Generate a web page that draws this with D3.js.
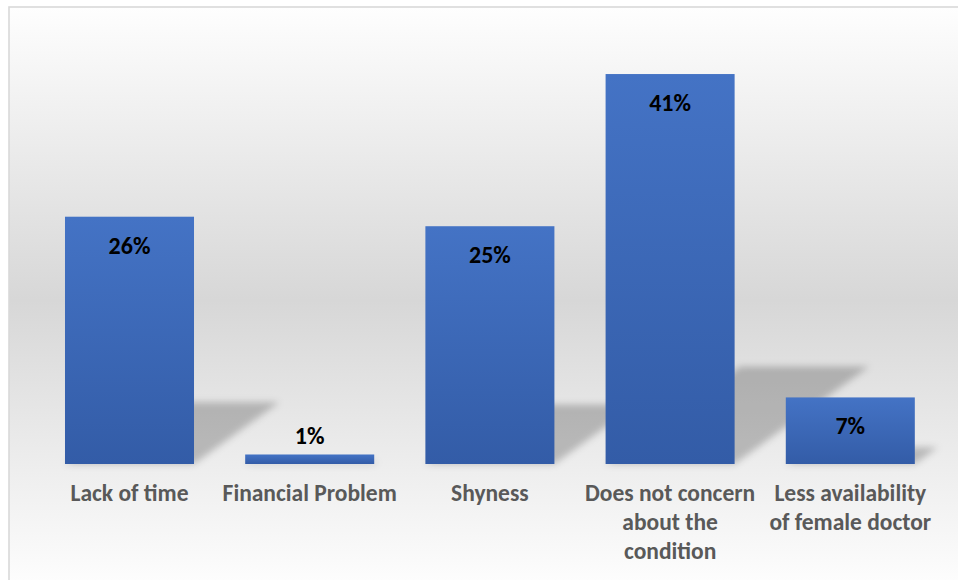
<!DOCTYPE html>
<html>
<head>
<meta charset="utf-8">
<script src="https://cdn.jsdelivr.net/npm/d3@7"></script>
<style>
  html, body { margin: 0; padding: 0; background: #ffffff; }
  svg { display: block; }
  text { font-family: Carlito, Calibri, Lato, "Open Sans", sans-serif; font-weight: bold; }
</style>
</head>
<body>
<svg id="chart" width="958" height="580"></svg>
<script>
// Reasons reported, share of respondents (%)
const categories = [
  "Lack of time",
  "Financial Problem",
  "Shyness",
  "Does not concern\nabout the\ncondition",
  "Less availability\nof female doctor"
];
const values = [26, 1, 25, 41, 7];
const valueLabels = ["26%", "1%", "25%", "41%", "7%"];

const width = 958, height = 580;
const svg = d3.select("#chart");
const defs = svg.append("defs");

// Panel background: light at top and bottom, grey through the middle
const bg = defs.append("linearGradient")
  .attr("id", "panelGrad")
  .attr("gradientUnits", "userSpaceOnUse")
  .attr("x1", 0).attr("y1", 7).attr("x2", 0).attr("y2", 582);
bg.append("stop").attr("offset", 0).attr("stop-color", "#fefefe");
bg.append("stop").attr("offset", 0.51).attr("stop-color", "#d7d7d7");
bg.append("stop").attr("offset", 1).attr("stop-color", "#fdfdfd");

// Bar fill: blue, slightly darker toward the base
const barGrad = defs.append("linearGradient")
  .attr("id", "barGrad")
  .attr("x1", 0).attr("y1", 0).attr("x2", 0).attr("y2", 1);
barGrad.append("stop").attr("offset", 0).attr("stop-color", "#4473c5");
barGrad.append("stop").attr("offset", 1).attr("stop-color", "#335ca7");

// Soft edge for the cast shadows
defs.append("filter")
  .attr("id", "shadowBlur")
  .attr("x", "-50%").attr("y", "-50%").attr("width", "200%").attr("height", "200%")
  .append("feGaussianBlur").attr("stdDeviation", 3.5);

svg.append("rect")
  .attr("x", 9).attr("y", 7)
  .attr("width", width + 20).attr("height", height + 20)
  .attr("fill", "url(#panelGrad)")
  .attr("stroke", "#d9d9d9")
  .attr("stroke-width", 1.6);

const x = d3.scaleBand()
  .domain(categories)
  .range([39.4, 940.4])
  .paddingInner(0.284)
  .paddingOuter(0.142);

const y = d3.scaleLinear()
  .domain([0, 45])
  .range([464, 36]);

const base = y(0);
const data = categories.map((c, i) => ({ cat: c, value: values[i], label: valueLabels[i] }));

// Perspective shadows falling up and to the right of each bar
const shadowScale = 0.25, shadowSlant = 1.38;
svg.append("g")
  .attr("filter", "url(#shadowBlur)")
  .selectAll("path")
  .data(data)
  .join("path")
  .attr("fill", "#000")
  .attr("fill-opacity", 0.22)
  .attr("d", d => {
    const x0 = x(d.cat), x1 = x0 + x.bandwidth();
    const sh = (base - y(d.value)) * shadowScale;
    const dx = sh * shadowSlant;
    return `M${x0},${base}L${x1},${base}L${x1 + dx},${base - sh}L${x0 + dx},${base - sh}Z`;
  });

// Bars
svg.append("g")
  .selectAll("rect")
  .data(data)
  .join("rect")
  .attr("x", d => x(d.cat))
  .attr("y", d => y(d.value))
  .attr("width", x.bandwidth())
  .attr("height", d => base - y(d.value))
  .attr("fill", "url(#barGrad)");

// Value labels at the inside end of each bar (lifted above very short bars)
svg.append("g")
  .selectAll("text")
  .data(data)
  .join("text")
  .attr("x", d => x(d.cat) + x.bandwidth() / 2)
  .attr("y", d => Math.min(y(d.value) + 37, base - 20))
  .attr("text-anchor", "middle")
  .attr("font-size", 24)
  .attr("fill", "#000000")
  .text(d => d.label);

// Category axis labels, wrapped onto several lines where needed
const xAxis = svg.append("g")
  .attr("transform", `translate(0,${base})`)
  .call(d3.axisBottom(x).tickSize(0).tickFormat(""));
xAxis.select(".domain").remove();

xAxis.selectAll(".tick")
  .append("text")
  .attr("text-anchor", "middle")
  .attr("font-size", 23.5)
  .attr("fill", "#595959")
  .each(function(d) {
    const lines = d.split("\n");
    const t = d3.select(this);
    lines.forEach((line, i) => {
      t.append("tspan")
        .attr("x", 0)
        .attr("y", 37 + i * 29)
        .text(line);
    });
  });
</script>
</body>
</html>
